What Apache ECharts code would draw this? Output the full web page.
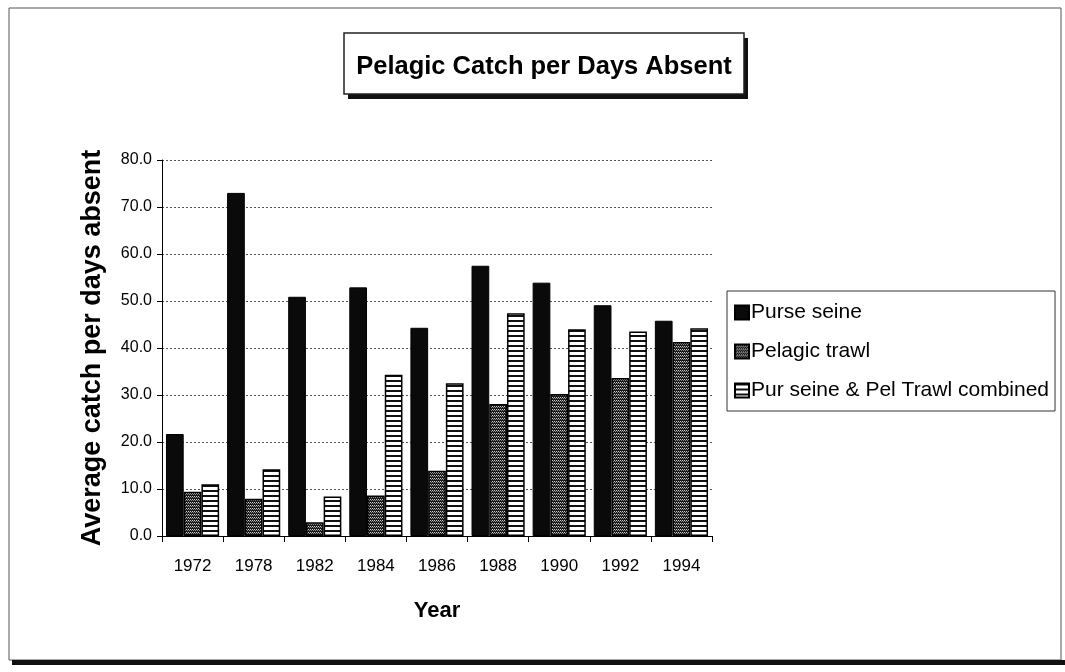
<!DOCTYPE html>
<html>
<head>
<meta charset="utf-8">
<script src="https://cdn.jsdelivr.net/npm/echarts@6/dist/echarts.min.js"></script>
<style>
  html, body { margin: 0; padding: 0; background: #fff; }
  #chart { width: 1065px; height: 672px; }
</style>
</head>
<body>
<div id="chart"></div>
<script>
    const years = ['1972', '1978', '1982', '1984', '1986', '1988', '1990', '1992', '1994'];
    const purseSeine = [21.7, 73.0, 50.9, 52.9, 44.3, 57.5, 53.9, 49.1, 45.8];
    const pelagicTrawl = [9.4, 7.9, 2.9, 8.6, 13.9, 28.1, 30.2, 33.6, 41.3];
    const combined = [11.0, 14.2, 8.4, 34.3, 32.5, 47.4, 44.0, 43.5, 44.2];
    const seriesNames = ['Purse seine', 'Pelagic trawl', 'Pur seine & Pel Trawl combined'];

    const narrow = "'Liberation Sans Narrow', 'Arial Narrow', 'Liberation Sans', Arial, sans-serif";
    const sans = "'Liberation Sans', Arial, sans-serif";

    // fill patterns, like the old excel hatches
    function dotPattern() {
        const c = document.createElement('canvas');
        c.width = 4; c.height = 3;
        const ctx = c.getContext('2d');
        ctx.fillStyle = '#1a1a1a';
        ctx.fillRect(0, 0, 4, 3);
        ctx.fillStyle = '#cfcfcf';
        ctx.fillRect(0, 1, 1, 1);
        ctx.fillRect(2, 1, 1, 1);
        ctx.fillStyle = '#8a8a8a';
        ctx.fillRect(1, 2, 1, 1);
        ctx.fillRect(3, 2, 1, 1);
        return c;
    }

    function stripePattern() {
        const c = document.createElement('canvas');
        c.width = 4; c.height = 5;
        const ctx = c.getContext('2d');
        ctx.fillStyle = '#ffffff';
        ctx.fillRect(0, 0, 4, 5);
        ctx.fillStyle = '#111111';
        ctx.fillRect(0, 0, 4, 2);
        return c;
    }

    const chart = echarts.init(document.getElementById('chart'));

    const option = {
        backgroundColor: '#fff',
        animation: false,
        graphic: [
            // outer frame with a heavy bottom edge
            { type: 'rect', shape: { x: 9, y: 8, width: 1052, height: 652 },
              style: { fill: 'none', stroke: '#555', lineWidth: 1 }, z: -1 },
            { type: 'rect', shape: { x: 12, y: 660, width: 1053, height: 5 },
              style: { fill: '#111' }, z: -1 },
            // title box with drop shadow
            { type: 'rect', shape: { x: 348, y: 38, width: 400, height: 61 },
              style: { fill: '#111' }, z: 1 },
            { type: 'rect', shape: { x: 344, y: 33, width: 400, height: 61 },
              style: { fill: '#fff', stroke: '#222', lineWidth: 1.5 }, z: 2 },
            { type: 'text', x: 544, y: 67, z: 3,
              style: { text: 'Pelagic Catch per Days Absent', fill: '#000',
                       font: "bold 25.5px 'Liberation Sans', Arial, sans-serif",
                       align: 'center', verticalAlign: 'middle' } }
        ],
        legend: {
            orient: 'vertical',
            left: 727,
            top: 291,
            data: seriesNames,
            itemWidth: 14,
            itemHeight: 14,
            itemGap: 18,
            padding: [11, 6, 10, 7],
            borderColor: '#333',
            borderWidth: 1,
            icon: 'rect',
            textStyle: { fontFamily: sans, fontSize: 21, color: '#000', padding: [0, 0, 0, -3] }
        },
        grid: {
            left: 162,
            top: 160,
            right: 353,
            bottom: 136
        },
        xAxis: {
            type: 'category',
            data: years,
            name: 'Year',
            nameLocation: 'middle',
            nameGap: 64,
            nameTextStyle: { fontFamily: narrow, fontSize: 22, fontWeight: 'bold', color: '#000' },
            axisLine: { lineStyle: { color: '#000', width: 1 } },
            axisTick: { show: true, length: 6, lineStyle: { color: '#000' } },
            axisLabel: { fontFamily: narrow, fontSize: 17, color: '#000', margin: 22 }
        },
        yAxis: {
            type: 'value',
            min: 0,
            max: 80,
            interval: 10,
            name: 'Average catch per days absent',
            nameLocation: 'middle',
            nameGap: 56,
            nameTextStyle: { fontFamily: sans, fontSize: 27, fontWeight: 'bold', color: '#000' },
            axisLine: { show: true, lineStyle: { color: '#000', width: 1 } },
            axisTick: { show: true, length: 5, lineStyle: { color: '#000' } },
            axisLabel: {
                fontFamily: narrow, fontSize: 16, color: '#000', margin: 10,
                formatter: function (v) { return v.toFixed(1); }
            },
            splitLine: { lineStyle: { color: '#555', type: [2, 2], width: 1 } }
        },
        series: [
            {
                name: seriesNames[0],
                type: 'bar',
                data: purseSeine,
                barCategoryGap: '13%',
                barGap: '0%',
                itemStyle: { color: '#0a0a0a', borderColor: '#000', borderWidth: 1 }
            },
            {
                name: seriesNames[1],
                type: 'bar',
                data: pelagicTrawl,
                itemStyle: {
                    color: { image: dotPattern(), repeat: 'repeat' },
                    borderColor: '#000', borderWidth: 1.5
                }
            },
            {
                name: seriesNames[2],
                type: 'bar',
                data: combined,
                itemStyle: {
                    color: { image: stripePattern(), repeat: 'repeat' },
                    borderColor: '#000', borderWidth: 1.5
                }
            }
        ]
    };

    chart.setOption(option);
</script>
</body>
</html>
